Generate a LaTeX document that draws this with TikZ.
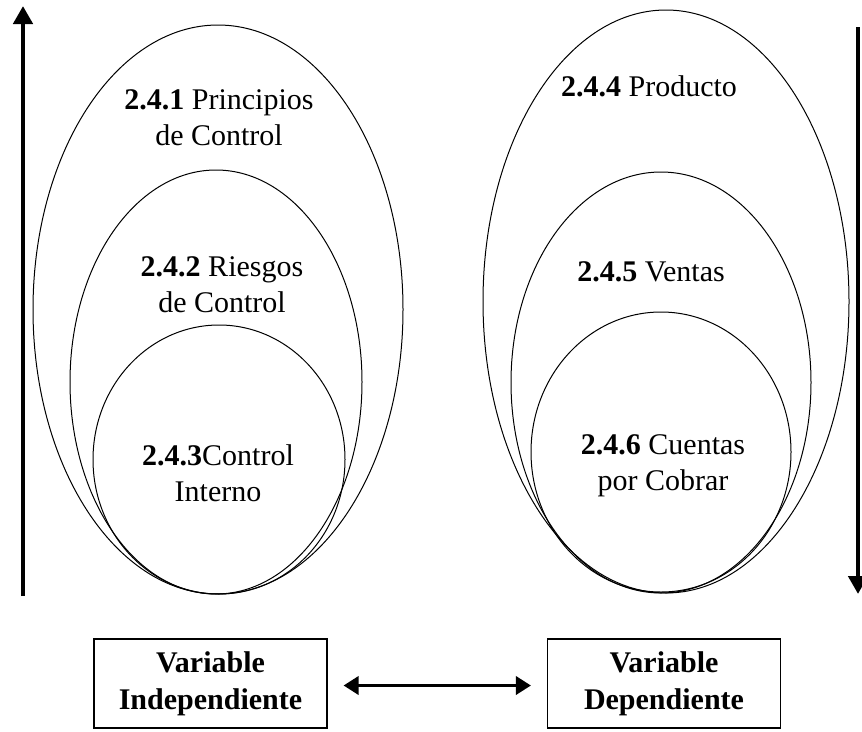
\documentclass[tikz,border=0pt]{standalone}
\usepackage{fontspec}
\setmainfont{Liberation Serif}
\usetikzlibrary{arrows.meta}

\tikzset{
  ring/.style={draw=black, line width=1pt},
  label/.style={align=center, font=\fontsize{30}{36}\selectfont, inner sep=0pt},
  varbox/.style={draw=black, line width=1.1pt, minimum width=233pt, minimum height=89pt,
                 align=center, font=\fontsize{30}{37}\selectfont\bfseries, inner sep=0pt},
  axis/.style={line width=4.5pt, -{Triangle[length=18pt, width=19pt]}},
  link/.style={line width=3.5pt, {Triangle[length=15pt, width=18pt]}-{Triangle[length=15pt, width=18pt]},
               shorten <=16pt, shorten >=16pt}
}

\begin{document}
\begin{tikzpicture}[x=1pt, y=-1pt]
  \useasboundingbox (0,0) rectangle (862,731);

  % left group of nested ellipses
  \draw[ring] (218,309.5) ellipse [x radius=185pt, y radius=284.5pt];
  \draw[ring] (216,382) ellipse [x radius=146pt, y radius=212pt];
  \draw[ring] (219,459.5) ellipse [x radius=126pt, y radius=134.5pt];

  % right group of nested ellipses
  \draw[ring] (666,301.5) ellipse [x radius=183pt, y radius=291.5pt];
  \draw[ring] (661,382.5) ellipse [x radius=150pt, y radius=210.5pt];
  \draw[ring] (661,452) ellipse [x radius=130pt, y radius=140pt];

  % labels inside the ellipses
  \node[label] (l1) at (219,118) {\textbf{2.4.1} Principios\\de Control};
  \node[label] (l2) at (222,285) {\textbf{2.4.2} Riesgos\\de Control};
  \node[label] (l3) at (218,473) {\textbf{2.4.3}Control\\Interno};
  \node[label] (r1) at (649,86) {\textbf{2.4.4} Producto};
  \node[label] (r2) at (651,272) {\textbf{2.4.5} Ventas};
  \node[label] (r3) at (663,466) {\textbf{2.4.6} Cuentas\\por Cobrar};

  % side arrows
  \coordinate (la0) at (23,596);
  \coordinate (la1) at (23,6);
  \draw[axis] (la0) -- (la1);
  \coordinate (ra0) at (858,27);
  \coordinate (ra1) at (858,594);
  \draw[axis] (ra0) -- (ra1);

  % variable boxes and the link between them
  \node[varbox] (vi) at (210.5,683.5) {Variable\\Independiente};
  \node[varbox] (vd) at (664,683.5) {Variable\\Dependiente};
  \draw[link] ([yshift=-2pt]vi.east) -- ([yshift=-2pt]vd.west);
\end{tikzpicture}
\end{document}
